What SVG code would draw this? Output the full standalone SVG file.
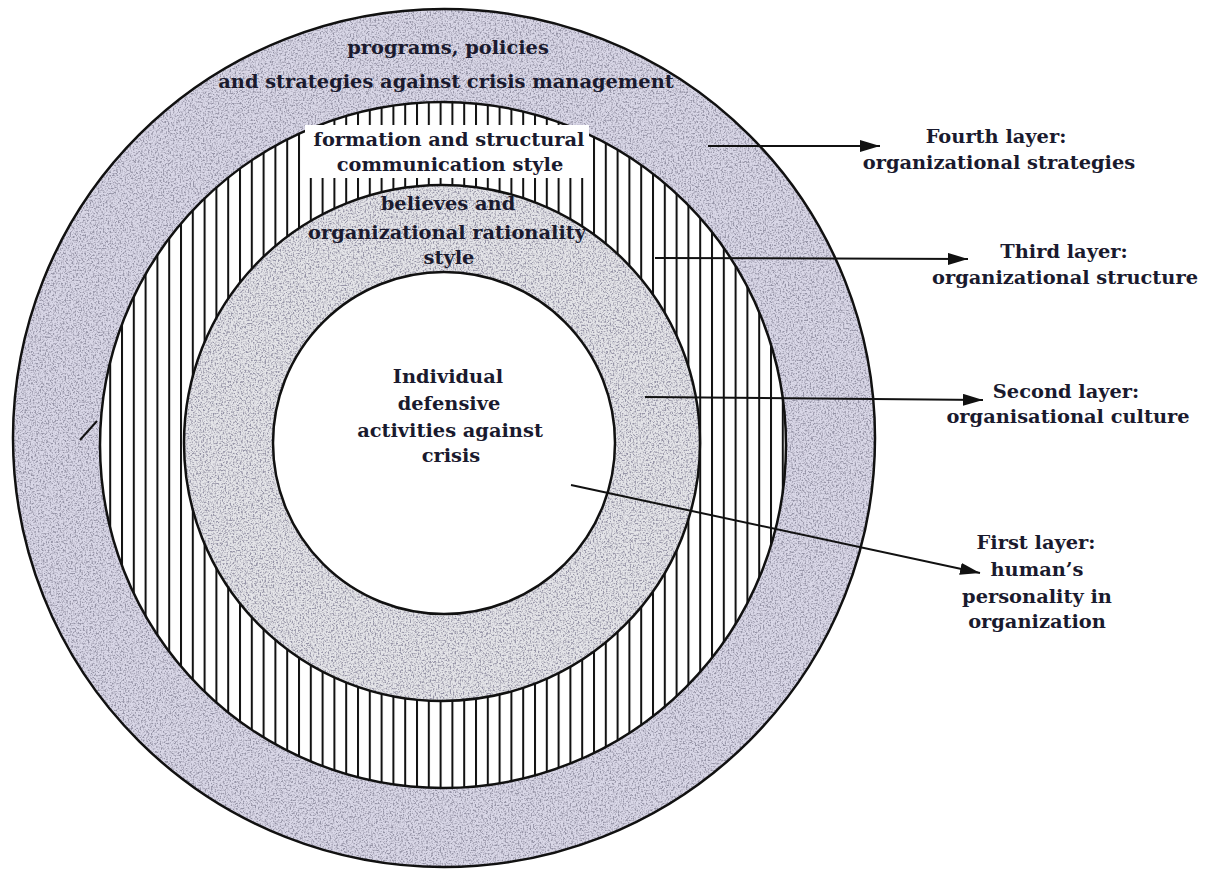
<svg xmlns="http://www.w3.org/2000/svg" width="1205" height="872" viewBox="0 0 1205 872">
<style>
  .ring { stroke: #111; stroke-width: 2.5; }
  .lbl { font-family: "DejaVu Serif", "Liberation Serif", serif; font-weight: bold; font-size: 19.4px; fill: #1a1a2e; text-anchor: middle; }
  .conn { stroke: #111; stroke-width: 2; fill: none; marker-end: url(#arrow); }
</style>
<defs>
  <pattern id="stripes" patternUnits="userSpaceOnUse" x="3" y="0" width="11.8" height="20">
    <rect width="11.8" height="20" fill="#ffffff"/>
    <rect x="0" y="0" width="2" height="20" fill="#111"/>
  </pattern>
  <filter id="grain" x="0" y="0" width="100%" height="100%">
    <feTurbulence type="fractalNoise" baseFrequency="0.6" numOctaves="2" seed="4" result="noise"/>
    <feColorMatrix in="noise" type="matrix" values="0 0 0 0 0.30  0 0 0 0 0.29  0 0 0 0 0.38  3.6 0 0 0 -1.6" result="dots"/>
    <feComposite in="dots" in2="SourceGraphic" operator="in" result="clipped"/>
    <feMerge><feMergeNode in="SourceGraphic"/><feMergeNode in="clipped"/></feMerge>
  </filter>
  <marker id="arrow" markerUnits="userSpaceOnUse" markerWidth="22" markerHeight="12" refX="20" refY="6" orient="auto">
    <path d="M0,0 L20,6 L0,12 Z" fill="#111"/>
  </marker>
</defs>
<rect width="1205" height="872" fill="#ffffff"/>

<g id="layer4">
  <ellipse cx="444" cy="438" rx="431" ry="429" fill="#d9d7e7" filter="url(#grain)"/>
  <ellipse class="ring" cx="444" cy="438" rx="431" ry="429" fill="none"/>
  <text class="lbl" x="448" y="54">programs, policies</text>
  <text class="lbl" x="446" y="88">and strategies against crisis management</text>
</g>

<g id="layer3">
  <circle class="ring" cx="443" cy="445" r="343" fill="url(#stripes)"/>
  <rect x="305" y="125" width="284" height="53" fill="#ffffff"/>
  <text class="lbl" x="449" y="146">formation and structural</text>
  <text class="lbl" x="450" y="171">communication style</text>
</g>

<g id="layer2">
  <circle cx="442" cy="443" r="258" fill="#e4e4e8" filter="url(#grain)"/>
  <circle class="ring" cx="442" cy="443" r="258" fill="none"/>
  <text class="lbl" x="448" y="210">believes and</text>
  <text class="lbl" x="447" y="239">organizational rationality</text>
  <text class="lbl" x="449" y="264">style</text>
</g>

<g id="layer1">
  <circle class="ring" cx="444" cy="443" r="171" fill="#ffffff"/>
  <text class="lbl" x="448" y="383">Individual</text>
  <text class="lbl" x="449" y="410">defensive</text>
  <text class="lbl" x="450" y="437">activities against</text>
  <text class="lbl" x="451" y="462">crisis</text>
</g>

<g id="connectors">
  <line class="conn" x1="708" y1="146" x2="880" y2="146"/>
  <line class="conn" x1="655" y1="258" x2="968" y2="259"/>
  <line class="conn" x1="645" y1="397" x2="983" y2="400"/>
  <line class="conn" x1="571" y1="485" x2="980" y2="573"/>
  <line x1="80" y1="440" x2="97" y2="421" stroke="#111" stroke-width="2"/>
</g>

<g id="label4">
  <text class="lbl" x="996" y="143">Fourth layer:</text>
  <text class="lbl" x="999" y="169">organizational strategies</text>
</g>
<g id="label3">
  <text class="lbl" x="1064" y="258">Third layer:</text>
  <text class="lbl" x="1065" y="284">organizational structure</text>
</g>
<g id="label2">
  <text class="lbl" x="1066" y="398">Second layer:</text>
  <text class="lbl" x="1068" y="423">organisational culture</text>
</g>
<g id="label1">
  <text class="lbl" x="1036" y="549">First layer:</text>
  <text class="lbl" x="1037" y="576">human’s</text>
  <text class="lbl" x="1037" y="603">personality in</text>
  <text class="lbl" x="1037" y="628">organization</text>
</g>
</svg>
